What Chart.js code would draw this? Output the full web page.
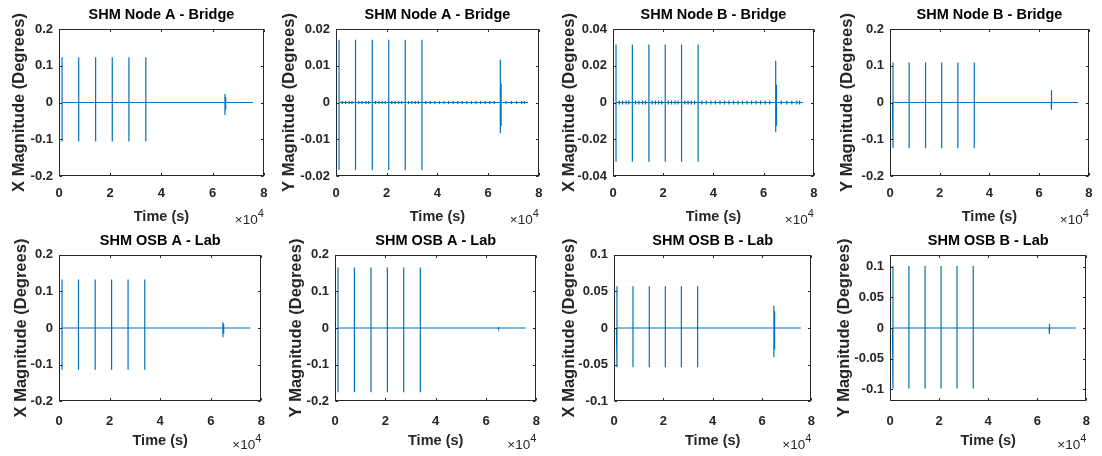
<!DOCTYPE html>
<html>
<head>
<meta charset="utf-8">
<script src="https://cdn.jsdelivr.net/npm/chart.js@4.4.0/dist/chart.umd.min.js"></script>
<style>
    html, body { margin: 0; padding: 0; background: #fff; }
    #figure { position: relative; width: 1102px; height: 456px; overflow: hidden; }
    .panel { position: absolute; width: 277px; height: 228px; }
</style>
</head>
<body>
<div id="figure"></div>
<script>
/* ====== DATA ====== */
const panelTitles = [
    "SHM Node A - Bridge", "SHM Node A - Bridge", "SHM Node B - Bridge", "SHM Node B - Bridge",
    "SHM OSB A - Lab", "SHM OSB A - Lab", "SHM OSB B - Lab", "SHM OSB B - Lab"
];
const yAxisLabels = [
    "X Magnitude (Degrees)", "Y Magnitude (Degrees)", "X Magnitude (Degrees)", "Y Magnitude (Degrees)",
    "X Magnitude (Degrees)", "Y Magnitude (Degrees)", "X Magnitude (Degrees)", "Y Magnitude (Degrees)"
];
const xTickValues = [0, 20000, 40000, 60000, 80000];
const xTickLabels = ["0", "2", "4", "6", "8"];
const yLimits = [0.2, 0.02, 0.04, 0.2, 0.2, 0.2, 0.1, 0.12];
const yTickValues = [
    [-0.2, -0.1, 0, 0.1, 0.2],
    [-0.02, -0.01, 0, 0.01, 0.02],
    [-0.04, -0.02, 0, 0.02, 0.04],
    [-0.2, -0.1, 0, 0.1, 0.2],
    [-0.2, -0.1, 0, 0.1, 0.2],
    [-0.2, -0.1, 0, 0.1, 0.2],
    [-0.1, -0.05, 0, 0.05, 0.1],
    [-0.1, -0.05, 0, 0.05, 0.1]
];
const yTickLabels = [
    ["-0.2", "-0.1", "0", "0.1", "0.2"],
    ["-0.02", "-0.01", "0", "0.01", "0.02"],
    ["-0.04", "-0.02", "0", "0.02", "0.04"],
    ["-0.2", "-0.1", "0", "0.1", "0.2"],
    ["-0.2", "-0.1", "0", "0.1", "0.2"],
    ["-0.2", "-0.1", "0", "0.1", "0.2"],
    ["-0.1", "-0.05", "0", "0.05", "0.1"],
    ["-0.1", "-0.05", "0", "0.05", "0.1"]
];

// time of the recording (s)
const traceStart = 1000;
const traceEnd = 75700;
const spikeTimes = [1200, 7700, 14300, 20800, 27300, 33900];
const burstTimes = [64800, 65100];
const noiseTimes = [
    2500, 3800, 5200, 6300, 9000, 10300, 11800, 12900, 15600, 16900, 18200, 19400,
    22000, 23300, 24700, 25900, 28600, 29900, 31200, 32500, 35400, 37200, 39000, 40800,
    42600, 44400, 46200, 48000, 49800, 51600, 53400, 55200, 57000, 58800, 60600, 62400,
    67000, 69200, 71200, 73200, 74300
];

// peak values (degrees)
const spikeHigh = [0.123, 0.0171, 0.0315, 0.109, 0.132, 0.165, 0.057, 0.1016];
const spikeLow  = [-0.106, -0.0184, -0.0322, -0.1245, -0.114, -0.175, -0.0536, -0.099];
const burstHigh = [[0.023, 0.015], [0.0116, 0.0052], [0.0227, 0.0096], [0.033, 0.015],
                   [0.0155, 0.01], [0.003, 0.002], [0.0305, 0.0227], [0.007, 0.005]];
const burstLow  = [[-0.034, -0.02], [-0.0084, -0.0064], [-0.0162, -0.0127], [-0.02, -0.012],
                   [-0.025, -0.015], [-0.003, -0.002], [-0.04, -0.0295], [-0.01, -0.006]];
const noiseAmp  = [0.001, 0.0004, 0.0011, 0.001, 0.001, 0.001, 0.0005, 0.001];

/* ====== LAYOUT ====== */
const colStart = [0, 275, 550, 825];
const rowTop = [0, 228];
const canvasW = 277, canvasH = 228;
const plotLeft  = [59, 336, 613, 890, 59, 335, 614, 890];
const plotRight = [266, 542, 819, 1095, 266, 542, 819, 1095];
const plotTopRel = [29, 26.7];
const plotBottomRel = [176, 173.3];
const titleCenterRel = [14.7, 13];
const xTickPad = [9.5, 12];
const xTitlePad = [2.6, 6];
const yTitleCenter = [19, 289, 569, 847, 21, 296, 569, 844];

const FONT = "'Liberation Sans', Arial, Helvetica, sans-serif";
const TEXT = "#262626";
const LINE = "#0072BD";

function buildTrace(i) {
    const events = [];
    spikeTimes.forEach(t => events.push({ t, hi: spikeHigh[i], lo: spikeLow[i] }));
    burstTimes.forEach((t, k) => events.push({ t, hi: burstHigh[i][k], lo: burstLow[i][k] }));
    noiseTimes.forEach(t => events.push({ t, hi: noiseAmp[i], lo: -noiseAmp[i] }));
    events.sort((a, b) => a.t - b.t);
    const pts = [{ x: traceStart, y: 0 }];
    events.forEach(e => {
        pts.push({ x: e.t, y: 0 }, { x: e.t, y: e.hi }, { x: e.t, y: e.lo }, { x: e.t, y: 0 });
    });
    pts.push({ x: traceEnd, y: 0 });
    return pts;
}

/* ====== MATLAB STYLE FRAME, TITLE, EXPONENT ====== */
const matlabFrame = {
    id: "matlabFrame",
    afterDraw(chart, args, opts) {
        const { ctx, chartArea: a, scales: { x, y } } = chart;
        ctx.save();
        ctx.strokeStyle = TEXT;
        ctx.lineWidth = 1;
        const L = Math.round(a.left) + 0.5, R = Math.round(a.right) - 0.5;
        const T = Math.round(a.top) + 0.5, B = Math.round(a.bottom) - 0.5;
        ctx.strokeRect(L, T, R - L, B - T);
        ctx.beginPath();
        x.ticks.forEach(t => {
            const px = Math.round(x.getPixelForValue(t.value)) + 0.5;
            ctx.moveTo(px, B); ctx.lineTo(px, B - 2.5);
            ctx.moveTo(px, T); ctx.lineTo(px, T + 2.5);
        });
        y.ticks.forEach(t => {
            const py = Math.round(y.getPixelForValue(t.value)) + 0.5;
            ctx.moveTo(L, py); ctx.lineTo(L + 2.5, py);
            ctx.moveTo(R, py); ctx.lineTo(R - 2.5, py);
        });
        ctx.stroke();

        ctx.fillStyle = "#000";
        ctx.font = "bold 14.5px " + FONT;
        ctx.textAlign = "center";
        ctx.textBaseline = "middle";
        ctx.fillText(opts.title, (a.left + a.right) / 2, opts.titleY);

        // x10^4 exponent
        ctx.fillStyle = TEXT;
        ctx.textAlign = "right";
        ctx.textBaseline = "alphabetic";
        ctx.font = "11px " + FONT;
        const exY = a.bottom + 48;
        ctx.fillText("4", a.right, exY - 7);
        const w4 = ctx.measureText("4").width;
        ctx.font = "13.5px " + FONT;
        ctx.fillText("\u00d710", a.right - w4, exY);
        ctx.restore();
    }
};

const figure = document.getElementById("figure");

panelTitles.forEach((title, i) => {
    const col = i % 4, row = Math.floor(i / 4);
    const box = document.createElement("div");
    box.className = "panel";
    box.style.left = colStart[col] + "px";
    box.style.top = rowTop[row] + "px";
    const canvas = document.createElement("canvas");
    box.appendChild(canvas);
    figure.appendChild(box);

    const yWidth = plotLeft[i] - colStart[col];
    const xHeight = canvasH - plotBottomRel[row];
    const yTitleSize = 16.5;

    new Chart(canvas, {
        type: "line",
        data: {
            datasets: [{
                data: buildTrace(i),
                borderColor: LINE,
                borderWidth: 1.2,
                pointRadius: 0,
                fill: false,
                tension: 0
            }]
        },
        options: {
            responsive: true,
            maintainAspectRatio: false,
            animation: false,
            devicePixelRatio: 1,
            layout: {
                padding: {
                    left: 0,
                    top: plotTopRel[row],
                    right: canvasW - (plotRight[i] - colStart[col]),
                    bottom: 0
                }
            },
            plugins: {
                legend: { display: false },
                tooltip: { enabled: false },
                matlabFrame: { title: title, titleY: titleCenterRel[row] }
            },
            scales: {
                x: {
                    type: "linear",
                    min: 0,
                    max: 80000,
                    grid: { display: false, drawTicks: false },
                    border: { display: false },
                    afterBuildTicks: s => { s.ticks = xTickValues.map(v => ({ value: v })); },
                    afterFit: s => { s.height = xHeight; },
                    ticks: {
                        padding: xTickPad[row],
                        maxRotation: 0,
                        color: TEXT,
                        font: { family: FONT, size: 13, weight: "bold" },
                        callback: (v) => xTickLabels[xTickValues.indexOf(v)]
                    },
                    title: {
                        display: true,
                        text: "Time (s)",
                        color: TEXT,
                        font: { family: FONT, size: 14.5, weight: "bold" },
                        padding: { top: 0, bottom: xTitlePad[row] }
                    }
                },
                y: {
                    type: "linear",
                    min: -yLimits[i],
                    max: yLimits[i],
                    grid: { display: false, drawTicks: false },
                    border: { display: false },
                    afterBuildTicks: s => { s.ticks = yTickValues[i].map(v => ({ value: v })); },
                    afterFit: s => { s.width = yWidth; },
                    ticks: {
                        padding: 6,
                        color: TEXT,
                        font: { family: FONT, size: 13, weight: "bold" },
                        callback: (v) => yTickLabels[i][yTickValues[i].indexOf(v)]
                    },
                    title: {
                        display: true,
                        text: yAxisLabels[i],
                        color: TEXT,
                        font: { family: FONT, size: yTitleSize, weight: "bold" },
                        padding: { top: (yTitleCenter[i] - colStart[col]) - yTitleSize * 0.6, bottom: 0 }
                    }
                }
            }
        },
        plugins: [matlabFrame]
    });
});
</script>
</body>
</html>
